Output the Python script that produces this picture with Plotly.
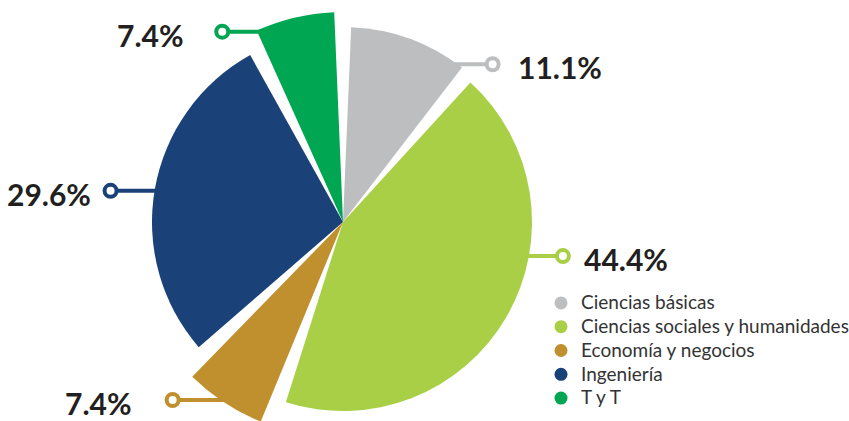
import math
import plotly.graph_objects as go

# data
categories = ["Ciencias básicas", "Ciencias sociales y humanidades",
              "Economía y negocios", "Ingeniería", "T y T"]
percentages = [11.1, 44.4, 7.4, 29.6, 7.4]

# styling
colors = ["#bcbec0", "#a8cf45", "#c08f2e", "#1a4279", "#00a651"]
radii = [195, 189, 216, 191, 210]              # each wedge has its own radius (px)
label_angles = [36, 100.4, 214.5, 279.4, 335]  # where the leader line leaves the wedge
leader_len = [35, 34, 48, 44, 32]
text_gap = [23, 19, 39, 18, 36]
gap_deg = 4.8

W, H = 849, 421
cx, cy = 343, 222
P = cy                 # polar radius in px, radial unit == 1 px
FH = 2 * P             # figure a bit taller than the window, bottom gets cut like the original

fig = go.Figure()

total = sum(percentages)
start = 0.0
for name, pct, col, rad in zip(categories, percentages, colors, radii):
    span = pct / total * 360
    fig.add_trace(go.Barpolar(
        r=[rad], theta=[start + span / 2], width=[span - gap_deg],
        marker=dict(color=col, line=dict(width=0)),
        name=name, showlegend=False, hoverinfo="skip"))
    start += span

# legend entries with round markers
for name, col in zip(categories, colors):
    fig.add_trace(go.Scatterpolar(
        r=[None], theta=[None], mode="markers",
        name='<span style="font-size:19px">%s</span>' % name,
        marker=dict(color=col, size=13)))

# leader lines, rings and labels
for pct, col, rad, ang, ln, tg in zip(percentages, colors, radii, label_angles, leader_len, text_gap):
    a = math.radians(ang)
    ax = cx + rad * math.sin(a)
    ay = cy - rad * math.cos(a)
    side = 1 if math.sin(a) > 0 else -1
    ex = ax + side * ln
    fig.add_trace(go.Scatter(
        x=[ax - side * 10, ex], y=[ay, ay], mode="lines",
        line=dict(color=col, width=4), showlegend=False, hoverinfo="skip"))
    fig.add_trace(go.Scatter(
        x=[ex], y=[ay], mode="markers", showlegend=False, hoverinfo="skip",
        marker=dict(color="white", size=12, line=dict(color=col, width=4))))
    fig.add_annotation(
        x=ex + side * tg, y=ay + 3, xref="x", yref="y",
        text="<b>%.1f%%</b>" % pct, showarrow=False,
        xanchor="left" if side > 0 else "right", yanchor="middle",
        font=dict(family="Lato", size=30, color="#231f20"))

fig.update_layout(
    width=W, height=FH,
    margin=dict(l=0, r=0, t=0, b=0, autoexpand=False),
    paper_bgcolor="white", plot_bgcolor="rgba(0,0,0,0)",
    font=dict(family="Lato", color="#333333"),
    xaxis=dict(range=[0, W], visible=False, fixedrange=True, domain=[0, 1]),
    yaxis=dict(range=[FH, 0], visible=False, fixedrange=True, domain=[0, 1]),
    polar=dict(
        domain=dict(x=[(cx - P) / W, (cx + P) / W], y=[0, 1]),
        bgcolor="rgba(0,0,0,0)",
        angularaxis=dict(rotation=90, direction="clockwise", visible=False),
        radialaxis=dict(range=[0, P], visible=False)),
    legend=dict(x=541 / W, y=1 - 286 / FH, xanchor="left", yanchor="top",
                font=dict(size=16, color="#333333"), itemwidth=30,
                tracegroupgap=0, bgcolor="rgba(0,0,0,0)"),
)

fig.write_html(
    "out.html",
    config={"displayModeBar": False},
    post_script="document.documentElement.style.overflow='hidden';"
                "document.body.style.margin='0';"
                "document.body.style.overflow='hidden';"
                "document.body.style.height='421px';")
